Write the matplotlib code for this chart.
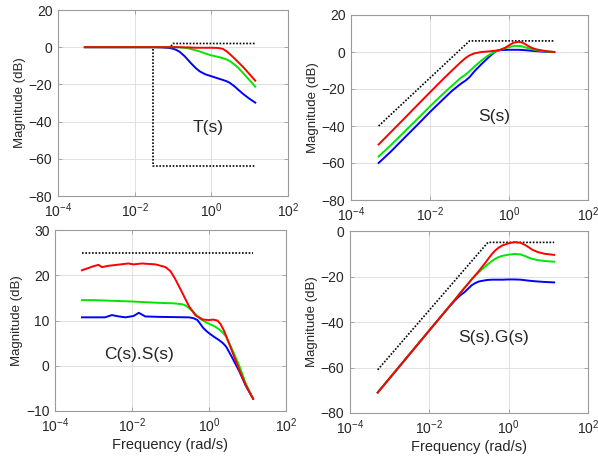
import matplotlib
matplotlib.use("Agg")
import matplotlib.pyplot as plt
from matplotlib.ticker import NullLocator, FixedLocator

plt.rcParams['font.family'] = ['Liberation Sans', 'DejaVu Sans']
plt.rcParams['mathtext.fontset'] = 'custom'
plt.rcParams['mathtext.rm'] = 'Liberation Sans'
plt.rcParams['mathtext.it'] = 'Liberation Sans'

# ---------------- T(s) ----------------
w_T = [5e-4, 1e-3, 1e-2, 0.03, 0.05, 0.08, 0.1, 0.12, 0.15, 0.2, 0.25, 0.3, 0.4, 0.5,
       0.7, 1, 1.5, 2, 2.5, 3, 4, 5, 7, 10, 14]
T_red = [0, 0, 0, 0, 0, 0, 0, 0, 0, -0.1, -0.1, -0.2, -0.3, -0.3,
         -0.3, -0.3, -0.4, -0.9, -2.2, -3.6, -6.0, -8.0, -11.0, -14.6, -18.0]
T_green = [0, 0, 0, 0, 0, 0, 0, 0, -0.1, -0.3, -0.6, -1.0, -1.7, -2.3,
           -3.4, -4.4, -5.2, -5.9, -6.6, -7.4, -9.3, -11.0, -14.3, -17.8, -21.2]
T_blue = [0, 0, 0, 0, -0.1, -0.4, -0.8, -1.4, -2.5, -4.8, -7.0, -8.8, -11.4, -13.0,
          -14.6, -15.6, -16.8, -17.6, -18.3, -19.1, -21.0, -22.8, -25.4, -27.8, -29.8]
T_up_w = [5e-4, 0.085, 0.1, 14]
T_up_db = [0, 0, 2, 2]
T_lo_w = [5e-4, 0.03, 0.03, 14]
T_lo_db = [0, 0, -64, -64]

# ---------------- S(s) ----------------
w_S = [5e-4, 1e-3, 2e-3, 5e-3, 1e-2, 2e-2, 0.036, 0.06, 0.08, 0.1, 0.135, 0.2,
       0.3, 0.45, 0.6, 0.8, 1, 1.3, 1.7, 2.1, 2.5, 3.2, 4, 5.5, 7, 10, 14]
S_red = [-50, -43.5, -37, -28.3, -21.8, -15.3, -10, -5.5, -3.2, -1.8, -0.7, 0,
         0.3, 0.7, 1.2, 2.3, 3.6, 5.0, 5.5, 5.2, 4.4, 3.0, 2.0, 1.2, 0.8, 0.3, 0]
S_green = [-56.5, -50.5, -44.2, -35.8, -29.4, -23.2, -18.2, -14, -12.2, -10.4, -7.8, -4.6,
           -1.8, 0.3, 1.2, 2.0, 2.6, 3.2, 3.3, 3.1, 2.6, 1.9, 1.4, 0.8, 0.5, 0.2, 0]
S_blue = [-60, -54, -47.5, -39, -32.4, -26.2, -21, -17.2, -15.4, -13.6, -10.3, -6.6,
          -3.0, 0.3, 1.0, 1.1, 1.2, 1.2, 1.2, 1.1, 1.0, 0.8, 0.6, 0.4, 0.2, 0.1, 0]
S_bd_w = [5e-4, 0.1, 14]
S_bd_db = [-40, 6, 6]

# ---------------- C(s).S(s) ----------------
w_CS_red = [5e-4, 7.4e-4, 1e-3, 1.35e-3, 1.65e-3, 2.5e-3, 4e-3, 8e-3, 1.1e-2, 1.8e-2,
            0.041, 0.074, 0.1, 0.13, 0.2, 0.3, 0.45, 0.7, 1, 1.3, 1.65, 2, 2.5, 3.3,
            4.5, 6.1, 9, 14]
CS_red = [21.1, 21.6, 22.0, 22.3, 21.8, 22.1, 22.3, 22.6, 22.4, 22.6,
          22.4, 21.8, 20.9, 19.3, 16.2, 13.2, 11.1, 10.2, 10.1, 10.2, 10.0, 9.2, 7.6, 5.0,
          2.0, -0.9, -4.3, -7.3]
w_CS_green = [5e-4, 1e-3, 1e-2, 0.05, 0.12, 0.2, 0.25, 0.3, 0.4, 0.5, 0.6, 0.8, 1, 1.4,
              1.8, 2.3, 2.8, 4, 6.1, 9, 14]
CS_green = [14.5, 14.5, 14.2, 13.9, 13.8, 13.6, 13.3, 12.8, 11.8, 11.0, 10.3, 9.7, 9.3, 8.7,
            8.1, 7.3, 6.4, 3.6, 0.0, -3.9, -7.3]
w_CS_blue = [5e-4, 2e-3, 3e-3, 4.5e-3, 6.8e-3, 1.1e-2, 1.5e-2, 2.2e-2, 0.05, 0.3,
             0.4, 0.5, 0.6, 0.7, 0.85, 1, 1.4, 1.8, 2.3, 2.8, 4, 6.1, 9, 14]
CS_blue = [10.7, 10.7, 11.2, 10.9, 10.7, 11.0, 11.7, 10.9, 10.8, 10.7,
           10.5, 10.1, 9.2, 8.4, 7.7, 7.2, 6.3, 5.7, 5.0, 4.2, 1.8, -1.2, -4.4, -7.3]
CS_bd_w = [5e-4, 14]
CS_bd_db = [25, 25]

# ---------------- S(s).G(s) ----------------
w_SG = [5e-4, 1e-3, 1e-2, 0.03, 0.045, 0.06, 0.078, 0.1, 0.116, 0.14, 0.17, 0.2, 0.25,
        0.3, 0.38, 0.45, 0.55, 0.7, 1, 1.4, 2, 2.5, 3.1, 4, 5.5, 8, 14]
SG_red = [-71, -64.7, -43.7, -33.7, -30.0, -27.3, -24.9, -22.7, -21.3, -19.7, -18.0, -16.4, -14.3,
          -12.4, -10.1, -8.7, -7.4, -6.3, -5.4, -4.9, -5.2, -6.0, -7.0, -8.3, -9.3, -10.0, -10.5]
SG_green = [-71, -64.7, -43.7, -33.7, -30.0, -27.3, -24.9, -22.7, -21.3, -19.8, -18.4, -17.2, -15.8,
            -14.6, -13.2, -12.3, -11.5, -10.9, -10.4, -10.1, -10.3, -10.9, -11.6, -12.3, -12.8, -13.2, -13.5]
SG_blue = [-71, -64.7, -43.7, -33.8, -30.4, -28.3, -26.8, -25.0, -23.9, -23.0, -22.3, -22.0, -21.7,
           -21.5, -21.4, -21.4, -21.4, -21.4, -21.3, -21.3, -21.4, -21.6, -21.8, -22.0, -22.2, -22.4, -22.6]
SG_bd_w = [5e-4, 0.3, 14]
SG_bd_db = [-61, -5, -5]

RED, GREEN, BLUE = '#ff0000', '#00e600', '#0000ff'
LW = 1.4
TXT = '#262626'
DOT = dict(color='black', linestyle=(0, (1, 1)), linewidth=1.2)

fig = plt.figure(figsize=(5.98, 4.58), dpi=100)

positions = [
    [58 / 598, 1 - 196 / 458, 230 / 598, 186 / 458],
    [351 / 598, 1 - 200 / 458, 237 / 598, 185 / 458],
    [55 / 598, 1 - 411 / 458, 231 / 598, 181 / 458],
    [350 / 598, 1 - 413 / 458, 238 / 598, 182 / 458],
]


def style(ax, ylim, yticks, xlabel=False):
    ax.set_xscale('log')
    ax.set_xlim(1e-4, 1e2)
    ax.set_ylim(*ylim)
    ax.xaxis.set_major_locator(FixedLocator([1e-4, 1e-2, 1e0, 1e2]))
    ax.xaxis.set_minor_locator(NullLocator())
    ax.set_yticks(yticks)
    ax.grid(True, color='#dcdcdc', linewidth=0.6)
    ax.set_axisbelow(True)
    for s in ax.spines.values():
        s.set_color('#9a9a9a')
        s.set_linewidth(0.8)
    ax.tick_params(direction='in', length=3, width=0.6, color='#9a9a9a',
                   labelsize=10, labelcolor=TXT, top=True, right=True, pad=4)
    ax.set_ylabel('Magnitude (dB)', fontsize=9.5, color=TXT, labelpad=2)
    if xlabel:
        ax.set_xlabel('Frequency (rad/s)', fontsize=10.5, color=TXT, labelpad=2)


ax1 = fig.add_axes(positions[0])
ax1.plot(T_up_w, T_up_db, **DOT)
ax1.plot(T_lo_w, T_lo_db, **DOT)
ax1.plot(w_T, T_blue, color=BLUE, linewidth=LW)
ax1.plot(w_T, T_green, color=GREEN, linewidth=LW)
ax1.plot(w_T, T_red, color=RED, linewidth=LW)
style(ax1, (-80, 20), [-80, -60, -40, -20, 0, 20])
ax1.text(0.83, -43, 'T(s)', fontsize=12.5, color=TXT, ha='center', va='center')

ax2 = fig.add_axes(positions[1])
ax2.plot(S_bd_w, S_bd_db, **DOT)
ax2.plot(w_S, S_blue, color=BLUE, linewidth=LW)
ax2.plot(w_S, S_green, color=GREEN, linewidth=LW)
ax2.plot(w_S, S_red, color=RED, linewidth=LW)
style(ax2, (-80, 20), [-80, -60, -40, -20, 0, 20])
ax2.text(0.42, -35, 'S(s)', fontsize=12.5, color=TXT, ha='center', va='center')

ax3 = fig.add_axes(positions[2])
ax3.plot(CS_bd_w, CS_bd_db, **DOT)
ax3.plot(w_CS_blue, CS_blue, color=BLUE, linewidth=LW)
ax3.plot(w_CS_green, CS_green, color=GREEN, linewidth=LW)
ax3.plot(w_CS_red, CS_red, color=RED, linewidth=LW)
style(ax3, (-10, 30), [-10, 0, 10, 20, 30], xlabel=True)
ax3.text(0.015, 2.4, 'C(s).S(s)', fontsize=12.5, color=TXT, ha='center', va='center')

ax4 = fig.add_axes(positions[3])
ax4.plot(SG_bd_w, SG_bd_db, **DOT)
ax4.plot(w_SG, SG_blue, color=BLUE, linewidth=LW)
ax4.plot(w_SG, SG_green, color=GREEN, linewidth=LW)
ax4.plot(w_SG, SG_red, color=RED, linewidth=LW)
style(ax4, (-80, 0), [-80, -60, -40, -20, 0], xlabel=True)
ax4.text(0.42, -46.6, 'S(s).G(s)', fontsize=12.5, color=TXT, ha='center', va='center')

fig.savefig('out.png', dpi=100)
